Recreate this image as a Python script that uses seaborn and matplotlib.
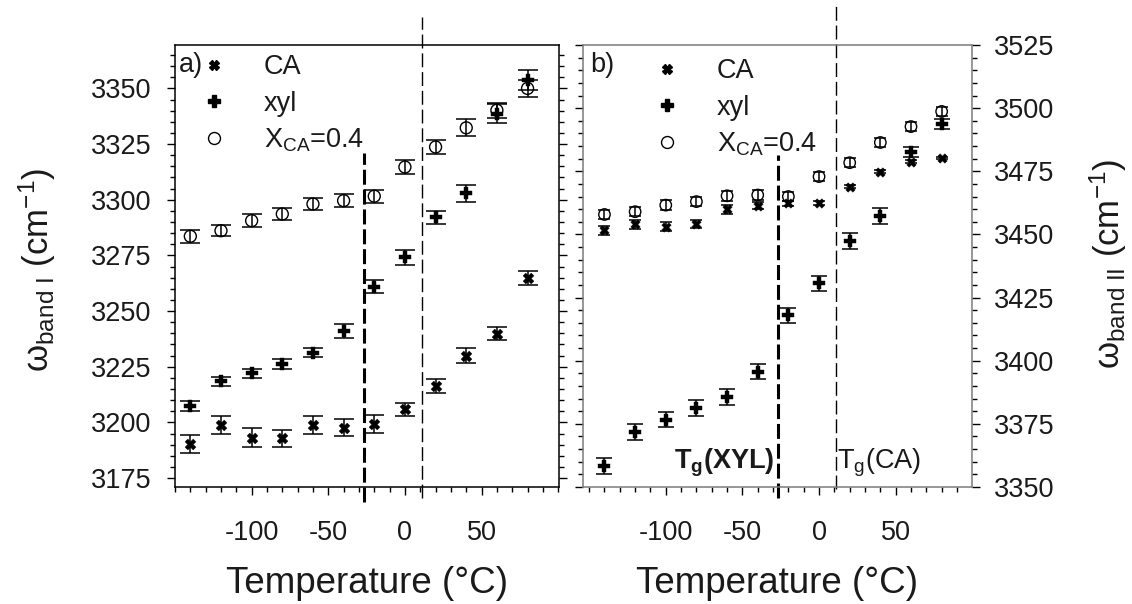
import numpy as np
import pandas as pd
import seaborn as sns
import matplotlib
matplotlib.use("Agg")
import matplotlib.pyplot as plt
from matplotlib.lines import Line2D
from matplotlib.ticker import MultipleLocator

# ---------------- data ----------------
temperature = [-140, -120, -100, -80, -60, -40, -20, 0, 20, 40, 60, 80]

# panel a) band I
a_ca = [3190.2, 3198.8, 3193.2, 3192.8, 3198.8, 3197.7, 3199.2, 3206.0, 3216.4, 3230.0, 3239.9, 3264.8]
a_ca_err = [4.1, 4.0, 4.1, 4.0, 4.0, 3.9, 4.0, 2.9, 3.0, 3.2, 3.0, 3.2]
a_xyl = [3207.5, 3218.4, 3222.1, 3226.2, 3231.2, 3241.0, 3261.0, 3274.1, 3292.1, 3303.0, 3338.7, 3353.8]
a_xyl_err = [2.2, 2.0, 2.1, 2.2, 2.0, 3.3, 3.0, 3.2, 2.9, 3.8, 4.4, 4.4]
a_mix = [3283.6, 3286.1, 3290.6, 3293.6, 3298.1, 3299.6, 3301.6, 3314.7, 3323.7, 3332.3, 3340.2, 3350.0]
a_mix_err = [3.0, 2.6, 3.0, 2.8, 2.8, 2.8, 2.9, 3.0, 3.2, 3.8, 3.4, 3.8]

# panel b) band II
b_ca = [3451.7, 3454.0, 3453.0, 3454.0, 3460.0, 3461.4, 3462.3, 3462.6, 3468.9, 3474.9, 3478.8, 3480.2]
b_ca_err = [1.8, 1.8, 1.8, 1.6, 1.8, 1.5, 1.0, 0.8, 0.5, 0.5, 0.5, 0.5]
b_xyl = [3358.2, 3371.8, 3376.7, 3381.3, 3385.7, 3395.6, 3418.0, 3430.6, 3447.4, 3457.3, 3482.8, 3493.7]
b_xyl_err = [3.1, 3.2, 3.0, 3.1, 3.1, 3.0, 3.0, 3.1, 3.0, 3.0, 2.0, 2.0]
b_mix = [3457.9, 3459.0, 3461.6, 3463.0, 3465.3, 3465.6, 3465.0, 3472.9, 3478.4, 3486.4, 3492.7, 3498.7]
b_mix_err = [1.9, 1.9, 1.9, 1.9, 1.9, 1.9, 1.9, 1.9, 1.9, 1.9, 1.9, 1.9]

series_labels = ["CA", "xyl", r"X$_{\mathrm{CA}}$=0.4"]
x_ticks = [-100, -50, 0, 50]
a_y_ticks = [3175, 3200, 3225, 3250, 3275, 3300, 3325, 3350]
b_y_ticks = [3350, 3375, 3400, 3425, 3450, 3475, 3500, 3525]
TG_XYL = -27
TG_CA = 11

# ---------------- style ----------------
sns.set_theme(style="ticks")
plt.rcParams["font.family"] = ["Liberation Sans", "DejaVu Sans"]
plt.rcParams["mathtext.fontset"] = "custom"
plt.rcParams["mathtext.rm"] = "Liberation Sans"
plt.rcParams["mathtext.it"] = "Liberation Sans:italic"
plt.rcParams["mathtext.bf"] = "Liberation Sans:bold"

W, H = 1132, 604
fig = plt.figure(figsize=(W / 100, H / 100), dpi=100)
fig.patch.set_facecolor("white")

def px_axes(l, r, t, b):
    return [l / W, 1 - b / H, (r - l) / W, (b - t) / H]

ax_a = fig.add_axes(px_axes(175, 558.5, 45, 487))
ax_b = fig.add_axes(px_axes(583, 972, 45, 487))

TICK_FS = 19.5
LEG_FS = 19.5


def draw_series(ax, vals, err, kind, cap, big=True):
    ax.errorbar(temperature, vals, yerr=err, fmt="none", ecolor="black",
                elinewidth=1.1, capsize=cap, capthick=1.1, zorder=3)
    if kind == "ca":
        sns.scatterplot(x=temperature, y=vals, marker="X", s=(7.8 if big else 6.8) ** 2,
                        color="black", edgecolor="black", linewidth=0.3, ax=ax, zorder=4)
    elif kind == "xyl":
        sns.scatterplot(x=temperature, y=vals, marker="P", s=(8.5 if big else 8) ** 2,
                        color="black", edgecolor="black", linewidth=0.3, ax=ax, zorder=4)
    else:
        sns.scatterplot(x=temperature, y=vals, marker="o", s=(8.6 if big else 8.2) ** 2,
                        color="black", edgecolor="black", linewidth=1.0, ax=ax, zorder=4)
        ax.collections[-1].set_facecolor("none")


draw_series(ax_a, a_mix, a_mix_err, "mix", 7)
draw_series(ax_a, a_xyl, a_xyl_err, "xyl", 7)
draw_series(ax_a, a_ca, a_ca_err, "ca", 7)

draw_series(ax_b, b_mix, b_mix_err, "mix", 4.5, big=False)
draw_series(ax_b, b_xyl, b_xyl_err, "xyl", 6, big=False)
draw_series(ax_b, b_ca, b_ca_err, "ca", 4.5, big=False)

# axes limits / ticks
ax_a.set_xlim(-150, 100.2)
ax_a.set_ylim(3171, 3369.5)
ax_b.set_xlim(-154, 99.8)
ax_b.set_ylim(3350, 3525)

for ax, yt in ((ax_a, a_y_ticks), (ax_b, b_y_ticks)):
    ax.set_xticks(x_ticks)
    ax.set_xticklabels([str(v) for v in x_ticks])
    ax.xaxis.set_minor_locator(MultipleLocator(10))
    ax.set_yticks(yt)
    ax.set_yticklabels([str(v) for v in yt])
    ax.yaxis.set_minor_locator(MultipleLocator(5))
    ax.tick_params(axis="both", which="major", direction="out", length=6, width=1.0,
                   color="black", labelsize=TICK_FS, labelcolor="#1a1a1a")
    ax.tick_params(axis="both", which="minor", direction="out", length=3.6, width=1.0,
                   color="black")
    ax.tick_params(axis="x", which="both", top=False, bottom=True, pad=18)
    ax.set_xlabel("Temperature (°C)", fontsize=26.5, labelpad=14, color="#1a1a1a")
    ax.set_ylabel("")
    ax.grid(False)

ax_a.tick_params(axis="y", which="both", left=True, right=True, labelleft=True,
                 labelright=False, pad=11)
ax_b.tick_params(axis="y", which="both", left=True, right=True, labelleft=False,
                 labelright=True, pad=9.5)

for sp in ax_a.spines.values():
    sp.set_visible(True)
    sp.set_color("black")
    sp.set_linewidth(1.1)
for sp in ax_b.spines.values():
    sp.set_visible(True)
    sp.set_color("#7a7a7a")
    sp.set_linewidth(1.1)

# glass transition lines
ax_a.axvline(TG_CA, ymin=-0.025, ymax=1.063, clip_on=False, color="black",
             lw=1.0, dashes=(10, 3.5), zorder=2)
ax_a.axvline(TG_XYL, ymin=-0.034, ymax=0.755, clip_on=False, color="black",
             lw=2.2, dashes=(4.9, 1.6), zorder=2)
ax_b.axvline(TG_CA, ymin=-0.005, ymax=1.095, clip_on=False, color="black",
             lw=1.0, dashes=(10, 3.5), zorder=2)
ax_b.axvline(TG_XYL, ymin=-0.025, ymax=0.751, clip_on=False, color="black",
             lw=2.2, dashes=(4.9, 1.6), zorder=2)

ax_b.text(TG_XYL - 1.8, 3357.3, r"$\mathbf{T_g}$$\mathbf{(XYL)}$", ha="right",
          va="baseline", fontsize=19.5, color="#1a1a1a")
ax_b.text(TG_CA + 1.0, 3357.3, r"T$_\mathrm{g}$(CA)", ha="left",
          va="baseline", fontsize=19.5, color="#1a1a1a")

# panel tags
ax_a.text(0.0104, 0.955, "a)", transform=ax_a.transAxes, ha="left", va="center",
          fontsize=19.5, color="#1a1a1a")
ax_b.text(0.018, 0.955, "b)", transform=ax_b.transAxes, ha="left", va="center",
          fontsize=19.5, color="#1a1a1a")

# legends
def make_legend(ax, x_anchor, y_anchor):
    handles = [
        Line2D([], [], ls="none", marker="X", ms=6.5, color="black"),
        Line2D([], [], ls="none", marker="P", ms=8, color="black"),
        Line2D([], [], ls="none", marker="o", ms=8.6, mfc="none", mec="black", mew=1.0),
    ]
    leg = ax.legend(handles, series_labels, loc="upper left",
                    bbox_to_anchor=(x_anchor, y_anchor), frameon=False,
                    fontsize=LEG_FS, handlelength=1.0, handletextpad=1.35,
                    labelspacing=0.38, borderpad=0, borderaxespad=0)
    for t in leg.get_texts():
        t.set_color("#1a1a1a")
    return leg

make_legend(ax_a, 0.066, 0.979)
make_legend(ax_b, 0.181, 0.97)

# y-axis titles
fig.text(37 / W, 1 - 270 / H, "ω$_{\\mathrm{band\\ I}}$ (cm$^{\\mathrm{-1}}$)", rotation=90,
         ha="center", va="center", fontsize=25, color="#1a1a1a")
fig.text(1108 / W, 1 - 264 / H, "ω$_{\\mathrm{band\\ II}}$ (cm$^{\\mathrm{-1}}$)", rotation=90,
         ha="center", va="center", fontsize=25, color="#1a1a1a")

fig.savefig("out.png", dpi=100, facecolor="white")
